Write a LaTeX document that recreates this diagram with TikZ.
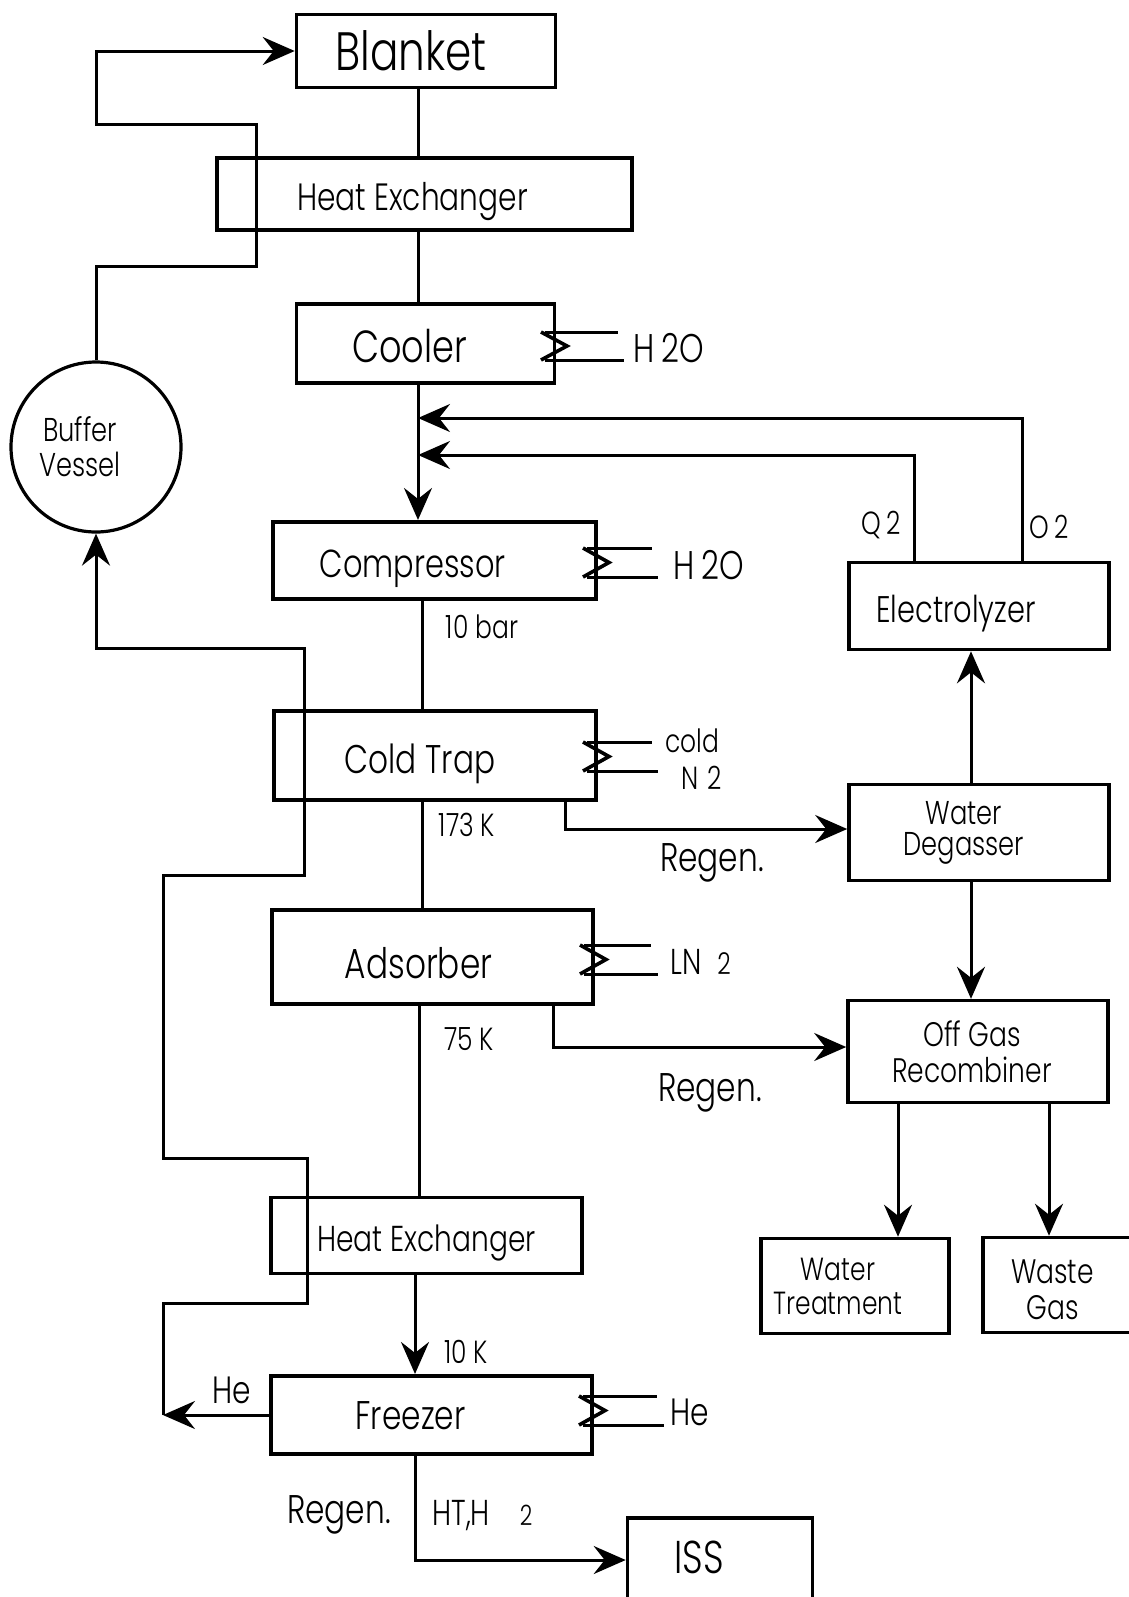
\documentclass[tikz,border=0pt]{standalone}
\usepackage{fontspec}
\setmainfont{Poppins}[UprightFont=* Light, FakeStretch=0.78]
\usetikzlibrary{arrows.meta}
\newcommand{\fsz}[1]{\fontsize{#1}{#1}\selectfont}

\begin{document}
\begin{tikzpicture}[x=0.5pt, y=-0.5pt,
    block/.style={rectangle, draw, line width=1.8pt, inner sep=0pt, align=center},
    single/.style={block, text depth=0pt, text height=#1},
    vessel/.style={circle, draw, line width=1.6pt, inner sep=0pt, align=center, minimum size=85pt},
    pipe/.style={line width=1.5pt},
    flow/.style={line width=1.5pt, -{Stealth[length=16pt, width=14pt, inset=5.5pt]}},
    tag/.style={inner sep=0pt, font=\fsz{16}}
]
\useasboundingbox (0,0) rectangle (1129,1597);

% Main train
\node[single=19.4pt, minimum width=129.5pt, minimum height=36.5pt, font=\fsz{27}] (blanket) at (426,51) {Blanket\kern15pt};
\node[single=16.2pt, minimum width=207.5pt, minimum height=36pt, font=\fsz{19}] (hxa) at (424.5,194) {Heat Exchanger\kern12pt};
\node[single=19.3pt, minimum width=129pt, minimum height=39.5pt, font=\fsz{22.5}] (cooler) at (425.4,343.4) {Cooler\kern16pt};
\node[single=17.1pt, minimum width=161.5pt, minimum height=38.75pt, font=\fsz{19.5}] (compressor) at (434.6,560.5) {Compressor\kern22pt};
\node[single=18pt, minimum width=161pt, minimum height=44.35pt, font=\fsz{20}] (coldtrap) at (435,755.6) {Cold Trap\kern15pt};
\node[single=21.2pt, minimum width=160.5pt, minimum height=47pt, font=\fsz{21}] (adsorber) at (432.6,957) {Adsorber\kern14pt};
\node[single=15.5pt, minimum width=155.5pt, minimum height=38pt, font=\fsz{18}] (hxb) at (426.5,1235.5) {Heat Exchanger};
\node[single=14.4pt, minimum width=160.5pt, minimum height=39.25pt, font=\fsz{20}] (freezer) at (431.5,1415) {Freezer\kern21pt};
\node[single=14.5pt, minimum width=92.5pt, minimum height=41pt, font=\fsz{23}] (iss) at (720,1559) {ISS\kern21pt};
\node[vessel, font=\fsz{16.5}] (buffer) at (96,447) {Buffer\kern16pt\\[1pt]Vessel\kern16pt};

% Water side
\node[single=16.9pt, minimum width=130pt, minimum height=43.5pt, font=\fsz{18.5}] (electrolyzer) at (979,606) {Electrolyzer\kern23pt};
\node[block, minimum width=130pt, minimum height=48pt, font=\fsz{16.5}] (degasser) at (979,832.5) {Water\kern15pt\\[-1pt]Degasser\kern15pt};
\node[block, minimum width=130pt, minimum height=51pt, font=\fsz{17}] (recombiner) at (978,1051.6) {Off Gas\kern6pt\\[1pt]Recombiner\kern6pt};
\node[block, minimum width=94pt, minimum height=47.5pt, font=\fsz{16}] (treatment) at (855,1286) {Water\kern17pt\\[1pt]Treatment\kern17pt};
\node[block, minimum width=78.5pt, minimum height=47.5pt, font=\fsz{17}] (wastegas) at (1061.5,1285) {\rule{0pt}{17pt}Waste\kern9pt\\[1pt]Gas\kern9pt};

% Spine columns and bends
\coordinate (sa) at (418,0);
\coordinate (sb) at (422,0);
\coordinate (sc) at (419,0);
\coordinate (sd) at (415,0);
\coordinate (dx) at (971,0);
\coordinate (qa) at (914,455);
\coordinate (oa) at (1022,418);
\coordinate (ga) at (565,829);
\coordinate (gb) at (553,1047);
\coordinate (gc) at (415,1560);
\coordinate (ra) at (256,266);
\coordinate (rb) at (256,124);
\coordinate (hc) at (163,0);
\coordinate (hb1) at (307,1303);
\coordinate (hb2) at (163,1158);
\coordinate (hb3) at (304,875);
\coordinate (hb4) at (304,648);

% Process line
\draw[pipe] (sa |- blanket.south) -- (sa |- hxa.north);
\draw[pipe] (sa |- hxa.south) -- (sa |- cooler.north);
\draw[flow] (sa |- cooler.south) -- (sa |- compressor.north);
\draw[pipe] (sb |- compressor.south) -- (sb |- coldtrap.north);
\draw[pipe] (sb |- coldtrap.south) -- (sb |- adsorber.north);
\draw[pipe] (sc |- adsorber.south) -- (sc |- hxb.north);
\draw[flow] (sd |- hxb.south) -- (sd |- freezer.north);
\draw[flow] (gc |- freezer.south) -- (gc) -- (iss.west |- gc);

% Buffer loop
\draw[flow] (buffer.north) |- (ra) -- (rb) -| (buffer.north |- blanket.west) -- (blanket.west);
\draw[flow] (freezer.west) -- (hc |- freezer.west);
\draw[flow] (hc |- freezer.west) |- (hb1) |- (hb2) |- (hb3) -- (hb4) -| (buffer.south);

% Regeneration and returns
\draw[flow] (ga |- coldtrap.south) -- (ga) -- (degasser.west |- ga);
\draw[flow] (gb |- adsorber.south) -- (gb) -- (recombiner.west |- gb);
\draw[flow] (qa |- electrolyzer.north) -- (qa) -- (sa |- qa);
\draw[flow] (oa |- electrolyzer.north) -- (oa) -- (sa |- oa);
\draw[flow] (dx |- degasser.north) -- (dx |- electrolyzer.south);
\draw[flow] (dx |- degasser.south) -- (dx |- recombiner.north);
\draw[flow] (898,0 |- recombiner.south) -- (898,0 |- treatment.north);
\draw[flow] (1049,0 |- recombiner.south) -- (1049,0 |- wastegas.north);

% Coolant coils
\foreach \ex/\ya/\yb/\xa/\xb in {554/332/360/618/624, 596/548/577/652/658, 596/742/771/652/658, 593/945/974/651/658, 592/1396/1425/657/664} {
  \draw[pipe] ({\ex-9},\ya) -- (\xa,\ya);
  \draw[pipe] ({\ex-9},\yb) -- (\xb,\yb);
  \draw[line width=1.8pt, line join=miter] ({\ex-13},\ya) -- ({\ex+13},{(\ya+\yb)/2}) -- ({\ex-13},\yb);
}

% Labels
\node[tag, anchor=west, font=\fsz{20}] (h2oa) at (633,348) {H\,2O};
\node[tag, anchor=west, font=\fsz{20}] (h2ob) at (673,565) {H\,2O};
\node[tag, anchor=west] (cold) at (665,741) {cold};
\node[tag, anchor=west] (ntwo) at (681,778) {N\;2};
\node[tag, anchor=west, font=\fsz{18}] (lntwo) at (670,962) {LN\;\,{\fsz{15}2}};
\node[tag, anchor=west, font=\fsz{19}] (hea) at (670,1412) {He};
\node[tag, font=\fsz{19}] (heb) at (231.5,1390) {He};
\node[tag] (bar) at (482,627) {10 bar};
\node[tag] (kct) at (467,825) {173 K};
\node[tag] (kad) at (469,1039) {75 K};
\node[tag] (kfr) at (466,1352) {10 K};
\node[tag, font=\fsz{20}] (rga) at (712,863) {Regen.};
\node[tag, font=\fsz{20}] (rgb) at (710,1093) {Regen.};
\node[tag, font=\fsz{20}] (rgc) at (339,1515) {Regen.};
\node[tag, anchor=west, font=\fsz{18}] (htx) at (432,1516) {HT,H\hspace{15pt}{\fsz{14}2}};
\node[tag] (qtwo) at (881,525) {Q\,2};
\node[tag] (otwo) at (1049,527) {O\,2};

\end{tikzpicture}
\end{document}
